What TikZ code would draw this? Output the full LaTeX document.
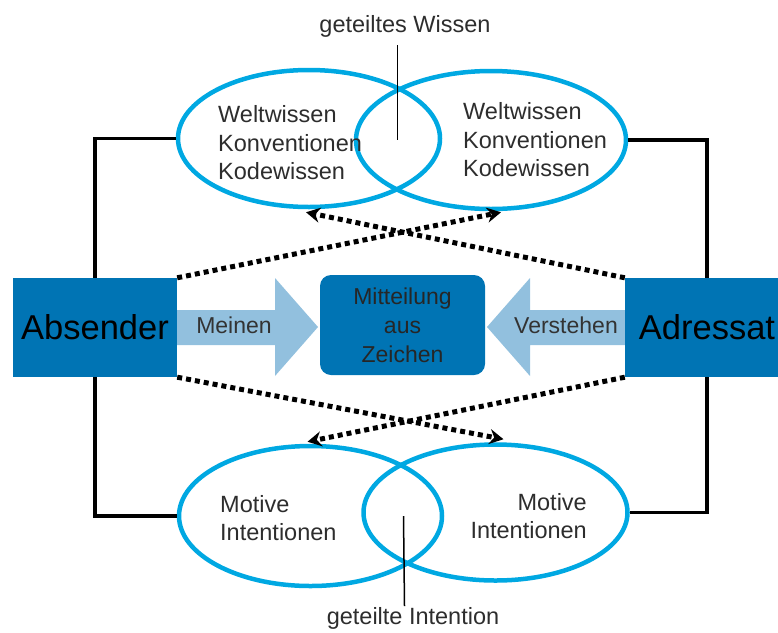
\documentclass[tikz,border=0pt]{standalone}
\usepackage{fontspec}
\setmainfont{Liberation Sans}
\usetikzlibrary{shapes.geometric,arrows.meta,calc}
\definecolor{dblue}{RGB}{0,116,180}
\definecolor{lblue}{RGB}{146,192,222}
\definecolor{ringc}{RGB}{0,168,226}
\definecolor{txt}{RGB}{45,45,45}
\begin{document}
\begin{tikzpicture}[x=1pt,y=-1pt,
 ring/.style={draw=ringc,line width=4.5pt,ellipse,inner sep=0pt},
 party/.style={fill=dblue,minimum width=164pt,minimum height=99pt,inner sep=0pt,font=\fontsize{34.5}{40}\selectfont,text=black},
 lbl/.style={font=\fontsize{23.5}{28.5}\selectfont,text=txt,inner sep=0pt},
 link/.style={line width=3.5pt,black},
 pointer/.style={line width=1.5pt,black},
 dotarr/.style={line width=5pt,dash pattern=on 5pt off 4pt,-{Stealth[length=14pt,width=15pt]}},
 flow/.style={fill=lblue,draw=none},
]
\useasboundingbox (0,0) rectangle (778,632);
\clip (0,0) rectangle (778,632);

% light arrows
\fill[flow] (170,310) -- (275,310) -- (275,278) -- (318,327) -- (275,376) -- (275,345) -- (170,345) -- cycle;
\fill[flow] (632,310) -- (530,310) -- (530,278) -- (487,327) -- (530,376) -- (530,345) -- (632,345) -- cycle;

% boxes
\node[party] (abs) at (95,327.5) {Absender};
\node[party] (adr) at (707,327.5) {Adressat};
\node[fill=dblue,rounded corners=11pt,minimum width=165pt,minimum height=100pt,inner sep=0pt,
      font=\fontsize{23}{29}\selectfont,align=center,text=black!85] (mz) at (402.5,325) {Mitteilung\\aus\\Zeichen};

\node[lbl,font=\fontsize{23}{28}\selectfont,text=black!80] (mein) at (234,325) {Meinen};
\node[lbl,font=\fontsize{23}{28}\selectfont,text=black!80] (vers) at (566,325) {Verstehen};

% ellipses
\node[ring,minimum width=262pt,minimum height=137pt] (ktl) at (309,138.5) {};
\node[ring,minimum width=270pt,minimum height=138pt] (ktr) at (491,140) {};
\node[ring,minimum width=263pt,minimum height=140pt] (kbl) at (310.5,516) {};
\node[ring,minimum width=264pt,minimum height=136pt] (kbr) at (495.5,512.5) {};

% texts in ellipses
\node[lbl,anchor=west,align=left] (t1) at (218,143) {Weltwissen\\Konventionen\\Kodewissen};
\node[lbl,anchor=west,align=left] (t2) at (463,140) {Weltwissen\\Konventionen\\Kodewissen};
\node[lbl,anchor=west,align=left] (t3) at (220,518) {Motive\\Intentionen};
\node[lbl,anchor=east,align=right] (t4) at (587,516) {Motive\\Intentionen};

% black connectors
\draw[link] (abs.north) |- (ktl.west);
\draw[link] (abs.south) |- (kbl.west);
\draw[link] (adr.north) |- (ktr.east);
\draw[link] (adr.south) |- (kbr.east);

% shared labels and pointers
\node[lbl] (gw) at (405,26) {geteiltes Wissen};
\coordinate (gwp) at (397.5,140);
\draw[pointer] (gwp |- 0,45) -- (gwp);
\node[lbl] (gi) at (413,618) {geteilte Intention};
\coordinate (gip) at (403.5,516);
\draw[pointer] (gip) -- (404.5,606);

% dotted arrows
\draw[dotarr] (abs.north east) -- ($(ktr.south)+(10,1)$);
\draw[dotarr] (adr.north west) -- ($(ktl.south)+(-3,3)$);
\draw[dotarr] (abs.south east) -- ($(kbr.north)+(8,-3)$);
\draw[dotarr] (adr.south west) -- ($(kbl.north)+(-3,-2)$);
\end{tikzpicture}
\end{document}
